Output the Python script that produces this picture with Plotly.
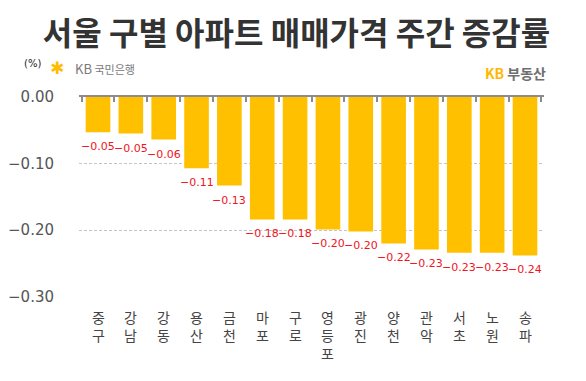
import plotly.graph_objects as go

districts = ["중구", "강남", "강동", "용산", "금천", "마포", "구로", "영등포", "광진", "양천", "관악", "서초", "노원", "송파"]
changes = [-0.053, -0.055, -0.064, -0.107, -0.133, -0.184, -0.184, -0.199, -0.202, -0.220, -0.229, -0.234, -0.234, -0.238]
value_labels = ["-0.05", "-0.05", "-0.06", "-0.11", "-0.13", "-0.18", "-0.18", "-0.20", "-0.20", "-0.22", "-0.23", "-0.23", "-0.23", "-0.24"]
y_ticks = [0.0, -0.10, -0.20, -0.30]

title_text = "서울 구별 아파트 매매가격 주간 증감률"
KR = "Noto Sans CJK KR"
OFF = 8  # page body margin of the browser
W, H = 586 - OFF, 381 - OFF

fig = go.Figure()
fig.add_trace(go.Bar(
    x=districts, y=changes,
    marker=dict(color="#FFC000", line=dict(width=0)),
    hoverinfo="skip",
))

annotations = []
# value labels below each bar end
for d, v, lab in zip(districts, changes, value_labels):
    annotations.append(dict(
        x=d, y=v, xref="x", yref="y", text=lab.replace("-", "\u2212"),
        showarrow=False, yanchor="top", yshift=-6,
        font=dict(family="DejaVu Sans", size=11, color="#F0141E"),
    ))
# vertical category labels along the bottom
for d in districts:
    annotations.append(dict(
        x=d, y=0, xref="x", yref="paper", text="<br>".join(list(d)),
        showarrow=False, yanchor="top", yshift=-8,
        font=dict(family=KR, size=14, color="#444444"),
    ))
# header items
annotations += [
    dict(x=-0.099, y=1.17, xref="paper", yref="paper", text="(%)", showarrow=False,
         xanchor="center", yanchor="middle", font=dict(family="DejaVu Sans", size=10, color="#222222")),
    dict(x=-0.047, y=1.145, xref="paper", yref="paper", text="✱", showarrow=False,
         xanchor="center", yanchor="middle", font=dict(family="DejaVu Sans", size=17, color="#FFBC00")),
    dict(x=-0.013, y=1.145, xref="paper", yref="paper",
         text="KB<span style='font-size:11px'> 국민은행</span>", showarrow=False,
         xanchor="left", yanchor="middle", font=dict(family=KR, size=13, color="#7a7a7a")),
    dict(x=1.008, y=1.12, xref="paper", yref="paper",
         text="<b><span style='color:#FFB800'>KB</span> <span style='color:#6e6e6e'>부동산</span></b>",
         showarrow=False, xanchor="right", yanchor="middle", font=dict(family=KR, size=14)),
]

fig.update_layout(
    width=W, height=H,
    margin=dict(l=79 - OFF, r=42, t=97 - OFF, b=84),
    paper_bgcolor="white", plot_bgcolor="white",
    bargap=0.25,
    showlegend=False,
    title=dict(text=f"<b>{title_text}</b>", x=(296.5 - OFF) / W, xanchor="center",
               y=1 - (33.5 - OFF) / H, yanchor="middle",
               font=dict(family=KR, size=32, color="#333333")),
    annotations=annotations,
    xaxis=dict(
        side="top", showline=True, linecolor="#8c8c8c", linewidth=1.5,
        ticks="inside", ticklen=5, tickwidth=1.5, tickcolor="#8c8c8c", tickson="boundaries",
        showticklabels=False, showgrid=False, zeroline=False, fixedrange=True, automargin=False,
    ),
    yaxis=dict(
        range=[-0.3005, 0], tickmode="array", tickvals=y_ticks, tickformat=".2f",
        showgrid=True, gridcolor="#c4c4c4", griddash="3px,2px", gridwidth=1,
        zeroline=False, showline=False, ticks="", automargin=False,
        ticklabelstandoff=24,
        tickfont=dict(family="DejaVu Sans", size=15, color="#555555"),
    ),
)

fig.write_html("out.html")
